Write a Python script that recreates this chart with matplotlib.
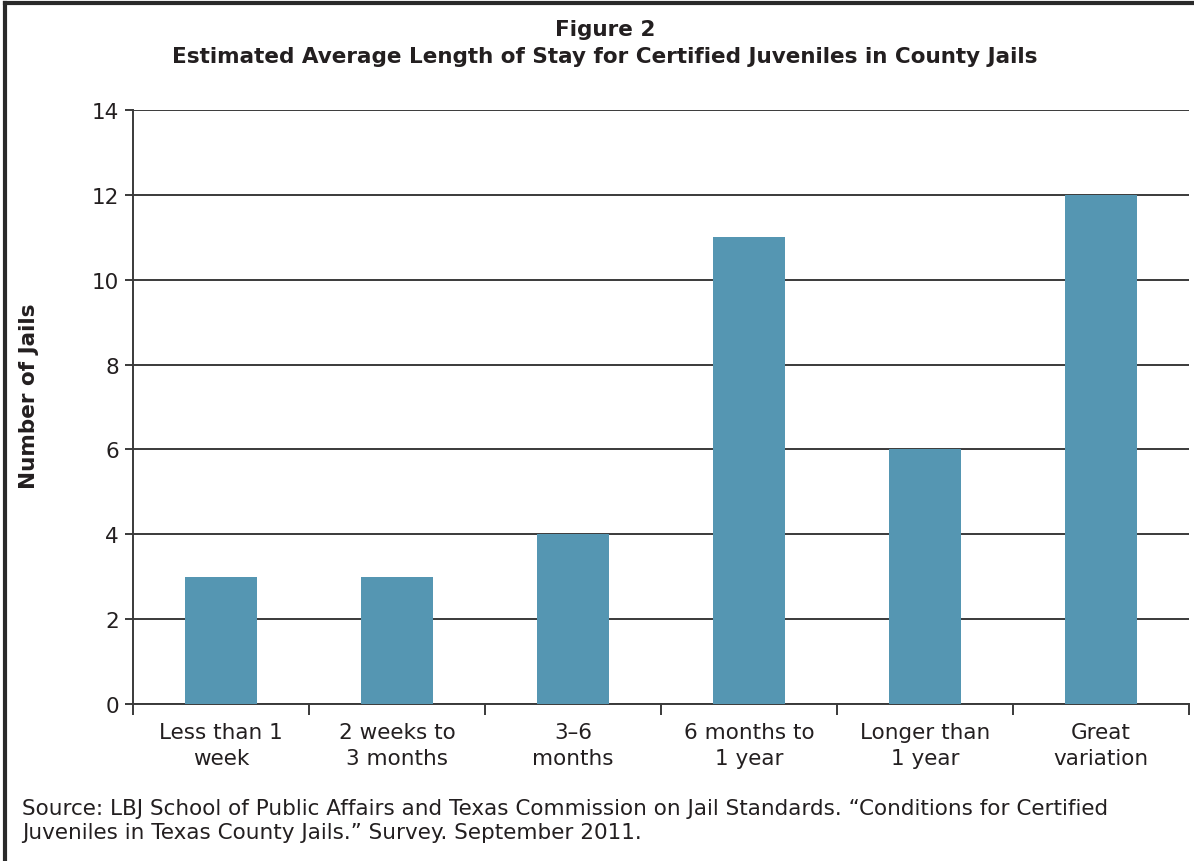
import matplotlib
matplotlib.use('Agg')
import matplotlib.pyplot as plt
from matplotlib.lines import Line2D
import numpy as np

# ─── DATA ────────────────────────────────────────────────────────────────
categories = ["Less than 1\nweek", "2 weeks to\n3 months", "3\u20136\nmonths",
              "6 months to\n1 year", "Longer than\n1 year", "Great\nvariation"]
jails = [3, 3, 4, 11, 6, 12]
y_ticks = [0, 2, 4, 6, 8, 10, 12, 14]

BAR_COLOR = '#5596b2'
TEXT = '#231f20'
GRID = '#3a3a3a'
FS = 15.5

plt.rcParams['font.family'] = 'DejaVu Sans'

fig = plt.figure(figsize=(11.94, 8.62), dpi=100, facecolor='white')
ax = fig.add_axes([133/1194, 1 - 705/862, (1189 - 133)/1194, (705 - 111)/862])

x = np.arange(len(categories))
ax.bar(x, jails, width=0.41, color=BAR_COLOR, zorder=3)

ax.set_xlim(-0.5, len(categories) - 0.5)
ax.set_ylim(0, 14)
ax.set_yticks(y_ticks)
ax.set_yticklabels([str(t) for t in y_ticks], fontsize=FS, color=TEXT)
ax.yaxis.grid(True, color=GRID, lw=1.4, zorder=0)
ax.tick_params(axis='y', length=6, width=1.4, color=GRID, pad=4)

# category boundaries get ticks, labels sit at the centres
ax.set_xticks(np.arange(len(categories) + 1) - 0.5)
ax.set_xticklabels([])
ax.set_xticks(x, minor=True)
ax.set_xticklabels(categories, minor=True, fontsize=FS, color=TEXT, linespacing=1.38)
ax.tick_params(axis='x', which='major', length=8, width=1.4, color=GRID)
ax.tick_params(axis='x', which='minor', length=0, pad=13)

for side in ['top', 'right']:
    ax.spines[side].set_visible(False)
for side in ['left', 'bottom']:
    ax.spines[side].set_color(GRID)
    ax.spines[side].set_linewidth(1.4)

ax.set_ylabel('Number of Jails', fontsize=FS, fontweight='bold', color=TEXT)
ax.yaxis.set_label_coords(-94/1056, 0.52)

fig.text(605/1194, 1 - 30/862, 'Figure 2', ha='center', va='center',
         fontsize=FS, fontweight='bold', color=TEXT)
fig.text(605/1194, 1 - 57/862,
         'Estimated Average Length of Stay for Certified Juveniles in County Jails',
         ha='center', va='center', fontsize=FS, fontweight='bold', color=TEXT)

fig.text(22/1194, 1 - 821/862,
         'Source: LBJ School of Public Affairs and Texas Commission on Jail Standards. '
         '\u201cConditions for Certified\nJuveniles in Texas County Jails.\u201d Survey. September 2011.',
         ha='left', va='center', fontsize=FS, color=TEXT, linespacing=1.25)

# frame lines along the top and left edge
fig.add_artist(Line2D([5/1194, 1], [1 - 4/862, 1 - 4/862], transform=fig.transFigure,
                      color='#2a2a2a', lw=3))
fig.add_artist(Line2D([5/1194, 5/1194], [0, 1 - 4/862], transform=fig.transFigure,
                      color='#2a2a2a', lw=3))

fig.savefig('out.png', dpi=100, facecolor='white')
